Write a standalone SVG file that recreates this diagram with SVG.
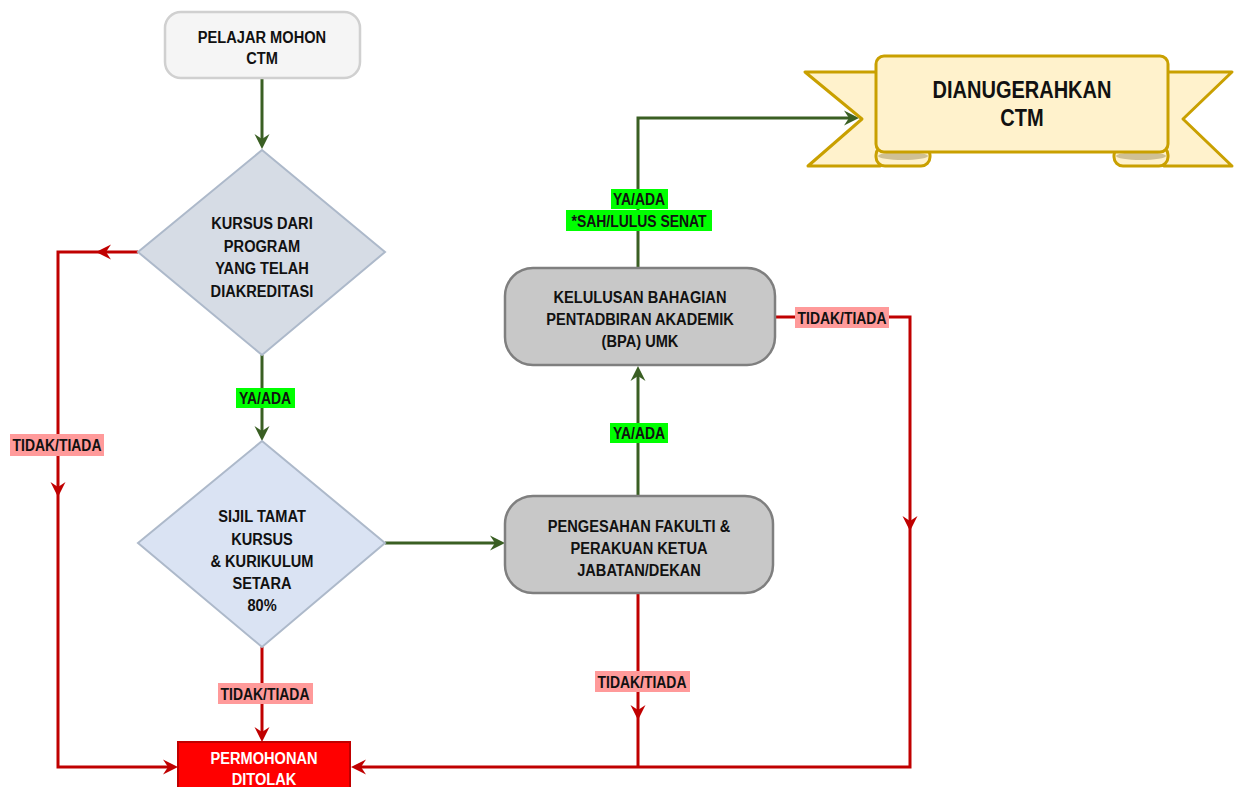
<svg xmlns="http://www.w3.org/2000/svg" xmlns:xlink="http://www.w3.org/1999/xlink" width="1238" height="787" viewBox="0 0 1238 787">
<style>
text{font-family:"Liberation Sans",Arial,sans-serif;font-weight:bold;text-anchor:middle;fill:#111;}
.t{font-size:17px;}
.lbl{font-size:16px;}
.g{fill:none;stroke:#3a5f23;stroke-width:3;}
.r{fill:none;stroke:#c00000;stroke-width:3;}
.ga{fill:#3a5f23;}
.ra{fill:#c00000;}
.pink{fill:#ff9a9a;}
.lime{fill:#00ff00;}
.proc{fill:#c8c8c8;stroke:#7f7f7f;stroke-width:2.5;}
.rib{fill:#fff2cc;stroke:#c9a000;stroke-width:3;stroke-linejoin:round;}
</style>
<defs>
<path id="ah" d="M0,0 L-15,-7.5 L-10,0 L-15,7.5 Z"/>
</defs>
<rect width="1238" height="787" fill="#ffffff"/>

<g id="connectors">
<path class="g" d="M262,78 L262,140"/>
<path class="g" d="M262,355 L262,432"/>
<path class="g" d="M385,543 L497,543"/>
<path class="g" d="M638,496 L638,374"/>
<path class="g" d="M638,268 L638,118 L850,118"/>
<path class="r" d="M138,252 L58,252 L58,767 L170,767"/>
<path class="r" d="M262,647 L262,734"/>
<path class="r" d="M638,593 L638,767"/>
<path class="r" d="M775,317 L910,317 L910,767 L358,767"/>
<use href="#ah" class="ga" transform="translate(262,149) rotate(90)"/>
<use href="#ah" class="ga" transform="translate(262,441) rotate(90)"/>
<use href="#ah" class="ga" transform="translate(505,543)"/>
<use href="#ah" class="ga" transform="translate(638,366) rotate(-90)"/>
<use href="#ah" class="ga" transform="translate(859,118)"/>
<use href="#ah" class="ra" transform="translate(96,252) rotate(180)"/>
<use href="#ah" class="ra" transform="translate(58,497) rotate(90)"/>
<use href="#ah" class="ra" transform="translate(262,742) rotate(90)"/>
<use href="#ah" class="ra" transform="translate(178,767)"/>
<use href="#ah" class="ra" transform="translate(351,767) rotate(180)"/>
<use href="#ah" class="ra" transform="translate(638,720) rotate(90)"/>
<use href="#ah" class="ra" transform="translate(910,531) rotate(90)"/>
<rect class="pink" x="10" y="434" width="94" height="22"/>
<text class="lbl" transform="matrix(0.87 0 0 1 57 451)">TIDAK/TIADA</text>
<rect class="lime" x="236" y="388" width="59" height="20"/>
<text class="lbl" transform="matrix(0.87 0 0 1 265 404)">YA/ADA</text>
<rect class="pink" x="218" y="683" width="95" height="21"/>
<text class="lbl" transform="matrix(0.87 0 0 1 265 700)">TIDAK/TIADA</text>
<rect class="pink" x="595" y="671" width="95" height="21"/>
<text class="lbl" transform="matrix(0.87 0 0 1 642 688)">TIDAK/TIADA</text>
<rect class="lime" x="610" y="423" width="58" height="20"/>
<text class="lbl" transform="matrix(0.87 0 0 1 639 439)">YA/ADA</text>
<rect class="pink" x="795" y="307" width="94" height="21"/>
<text class="lbl" transform="matrix(0.87 0 0 1 842 324)">TIDAK/TIADA</text>
<rect class="lime" x="611" y="189" width="57" height="20"/>
<text class="lbl" transform="matrix(0.87 0 0 1 639 205)">YA/ADA</text>
<rect class="lime" x="566" y="210" width="146" height="21"/>
<text class="lbl" transform="matrix(0.87 0 0 1 639 227)">*SAH/LULUS SENAT</text>
</g>

<g id="start">
<rect x="165" y="12" width="195" height="66" rx="16" fill="#f5f5f5" stroke="#d0d0d0" stroke-width="2.5"/>
<text class="t" transform="matrix(0.86 0 0 1 262 43)">PELAJAR MOHON</text>
<text class="t" transform="matrix(0.86 0 0 1 262 64)">CTM</text>
</g>

<g id="decision1">
<polygon points="262,150 385,252 262,355 138,252" fill="#d6dce5" stroke="#adb9ca" stroke-width="2"/>
<text class="t" transform="matrix(0.86 0 0 1 262 229)">KURSUS DARI</text>
<text class="t" transform="matrix(0.86 0 0 1 262 252)">PROGRAM</text>
<text class="t" transform="matrix(0.86 0 0 1 262 274)">YANG TELAH</text>
<text class="t" transform="matrix(0.86 0 0 1 262 297)">DIAKREDITASI</text>
</g>

<g id="decision2">
<polygon points="262,441 385,543 262,647 138,543" fill="#dae3f3" stroke="#adb9ca" stroke-width="2"/>
<text class="t" transform="matrix(0.86 0 0 1 262 522)">SIJIL TAMAT</text>
<text class="t" transform="matrix(0.86 0 0 1 262 545)">KURSUS</text>
<text class="t" transform="matrix(0.86 0 0 1 262 567)">&amp; KURIKULUM</text>
<text class="t" transform="matrix(0.86 0 0 1 262 589)">SETARA</text>
<text class="t" transform="matrix(0.86 0 0 1 262 611)">80%</text>
</g>

<g id="pengesahan">
<rect class="proc" x="505" y="496" width="268" height="97" rx="28"/>
<text class="t" transform="matrix(0.86 0 0 1 639 532)">PENGESAHAN FAKULTI &amp;</text>
<text class="t" transform="matrix(0.86 0 0 1 639 554)">PERAKUAN KETUA</text>
<text class="t" transform="matrix(0.86 0 0 1 639 576)">JABATAN/DEKAN</text>
</g>

<g id="kelulusan">
<rect class="proc" x="505" y="268" width="270" height="97" rx="28"/>
<text class="t" transform="matrix(0.86 0 0 1 640 303)">KELULUSAN BAHAGIAN</text>
<text class="t" transform="matrix(0.86 0 0 1 640 325)">PENTADBIRAN AKADEMIK</text>
<text class="t" transform="matrix(0.86 0 0 1 640 347)">(BPA) UMK</text>
</g>

<g id="ditolak">
<rect x="178" y="742" width="172" height="50" fill="#ff0000" stroke="#c00000" stroke-width="2"/>
<text class="t" transform="matrix(0.86 0 0 1 264 764)" style="fill:#ffffff">PERMOHONAN</text>
<text class="t" transform="matrix(0.86 0 0 1 264 785)" style="fill:#ffffff">DITOLAK</text>
</g>

<g id="dianugerahkan">
<path class="rib" d="M805,72 L880,72 L880,166 L808,166 L862,119 Z"/>
<path class="rib" d="M1232,72 L1164,72 L1164,166 L1232,166 L1183,119 Z"/>
<rect class="rib" x="876" y="146" width="54" height="20" rx="9"/>
<ellipse cx="903" cy="156" rx="25" ry="4" fill="#cfc095"/>
<rect class="rib" x="1114" y="146" width="54" height="20" rx="9"/>
<ellipse cx="1141" cy="156" rx="25" ry="4" fill="#cfc095"/>
<rect class="rib" x="876" y="56" width="292" height="96" rx="8"/>
<text transform="matrix(0.87 0 0 1 1022 98)" style="font-size:23px">DIANUGERAHKAN</text>
<text transform="matrix(0.87 0 0 1 1022 126)" style="font-size:23px">CTM</text>
</g>
</svg>
